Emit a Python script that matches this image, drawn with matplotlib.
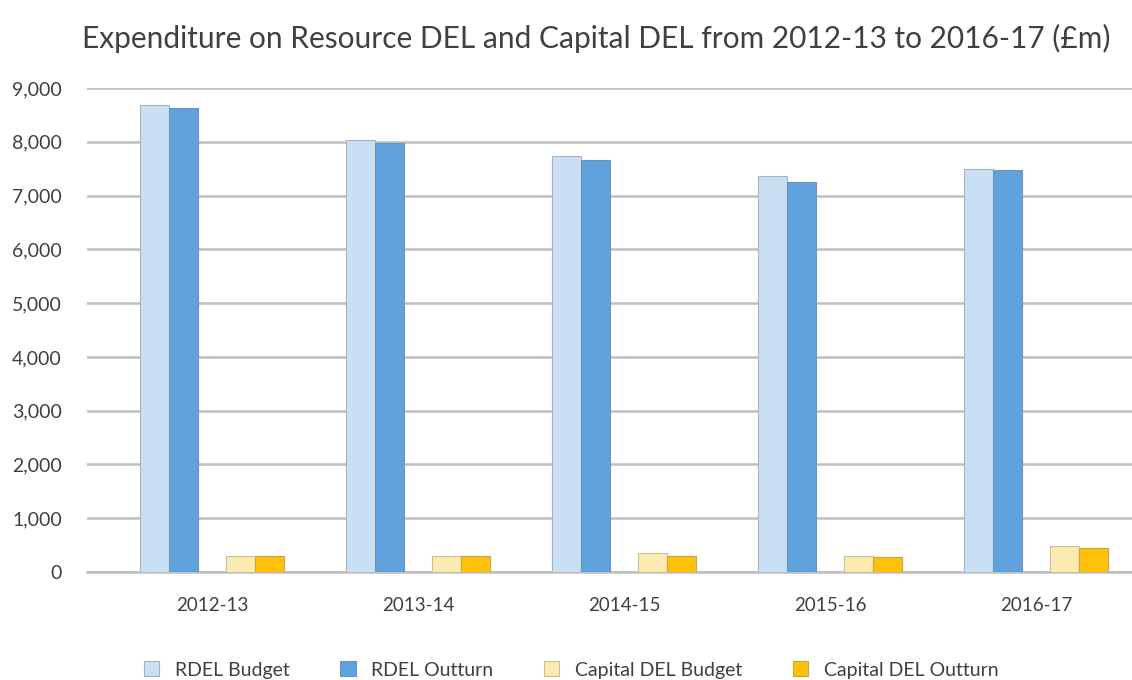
import numpy as np
import matplotlib
matplotlib.use("Agg")
import matplotlib.pyplot as plt

plt.rcParams['font.family'] = ['Lato', 'DejaVu Sans']

# data
years = ["2012-13", "2013-14", "2014-15", "2015-16", "2016-17"]
rdel_budget = [8690, 8030, 7730, 7360, 7500]
rdel_outturn = [8620, 7980, 7660, 7250, 7470]
cdel_budget = [300, 300, 350, 300, 480]
cdel_outturn = [300, 300, 300, 280, 440]

series = [
    ("RDEL Budget", rdel_budget, -2, "#c9dff4", "#a9b4be"),
    ("RDEL Outturn", rdel_outturn, -1, "#5fa2de", "#6f94b8"),
    ("Capital DEL Budget", cdel_budget, 1, "#fcebb0", "#c9bf9a"),
    ("Capital DEL Outturn", cdel_outturn, 2, "#ffc20a", "#c9a640"),
]

fig = plt.figure(figsize=(11.32, 6.8), dpi=100)
# axes placed in pixels: left 87, right 1132, bottom 572, top 88
ax = fig.add_axes([87 / 1132, (680 - 572) / 680, (1132 - 87) / 1132, (572 - 88) / 680])

x = np.arange(len(years))
w = 0.139
for name, vals, off, col, edge in series:
    ax.bar(x + off * w, vals, width=w, color=col, edgecolor=edge, linewidth=0.8,
           label=name, zorder=3)

ax.set_xlim(-0.607, 4.466)
ax.set_ylim(0, 9000)
ax.set_yticks(np.arange(0, 9001, 1000))
ax.set_yticklabels([f"{v:,}" for v in range(0, 9001, 1000)])
ax.set_xticks(x)
ax.set_xticklabels(years)

ax.grid(axis="y", color="#bfbfbf", linewidth=1.8, zorder=0)
for s in ["top", "right", "left"]:
    ax.spines[s].set_visible(False)
ax.spines["bottom"].set_color("#bfbfbf")
ax.spines["bottom"].set_linewidth(1.8)
ax.tick_params(axis="y", length=0, pad=18, labelsize=14, labelcolor="#404040")
ax.tick_params(axis="x", length=0, pad=18, labelsize=13.5, labelcolor="#404040")

fig.text(596 / 1132, 1 - 38 / 680, "Expenditure on Resource DEL and Capital DEL from 2012-13 to 2016-17 (£m)",
         ha="center", va="center", fontsize=21.5, color="#404040")

fig.legend(loc="center", bbox_to_anchor=(571 / 1132, 1 - 670 / 680), ncol=4,
           frameon=False, fontsize=14, labelcolor="#404040", handlelength=0.8,
           handleheight=0.8, columnspacing=2.6, handletextpad=0.8)

fig.savefig("out.png", dpi=100)
